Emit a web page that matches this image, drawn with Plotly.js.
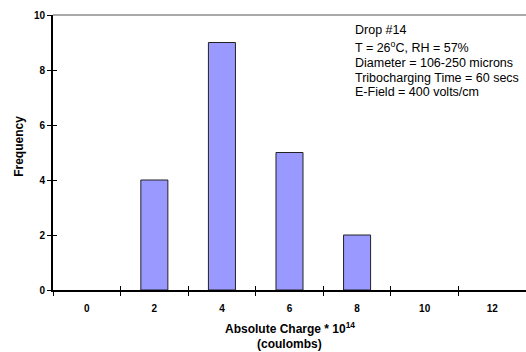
<!DOCTYPE html>
<html>
<head>
<meta charset="utf-8">
<script src="https://cdn.plot.ly/plotly-3.0.1.min.js"></script>
<style>
  html, body { margin: 0; padding: 0; background: #fff; }
  #chart { width: 526px; height: 352px; }
</style>
</head>
<body>
<div id="chart"></div>
<script>
// Charge bins (x 10^14 C) and number of particles counted in each
const chargeBins = ["0", "2", "4", "6", "8", "10", "12"];
const frequency = [0, 4, 9, 5, 2, 0, 0];
const yTicks = [0, 2, 4, 6, 8, 10];

const infoLines = [
  "Drop #14",
  "T = 26<sup>o</sup>C, RH = 57%",
  "Diameter = 106-250 microns",
  "Tribocharging Time = 60 secs",
  "E-Field = 400 volts/cm"
];
// vertical centre of each info line, in paper units
const infoY = [0.945, 0.882, 0.825, 0.772, 0.719];

const FONT = "Liberation Sans, Arial, sans-serif";
const tickFont = { size: 10, family: FONT, weight: "bold", color: "#000" };

const trace = {
  type: "bar",
  x: chargeBins,
  y: frequency,
  width: 0.4,
  marker: {
    color: "#9999FF",
    // empty bins get no outline so nothing sits on the axis
    line: { color: "#222", width: frequency.map(v => (v > 0 ? 1 : 0)) }
  },
  hoverinfo: "x+y"
};

const axisCommon = {
  showgrid: false, zeroline: false,
  tickcolor: "#000", tickwidth: 1, ticklen: 4,
  fixedrange: true
};

const layout = {
  width: 526,
  height: 352,
  margin: { l: 53, r: 0, t: 15, b: 62 },
  paper_bgcolor: "#fff",
  plot_bgcolor: "#fff",
  showlegend: false,
  font: { family: FONT, color: "#000" },
  xaxis: Object.assign({}, axisCommon, {
    type: "category",
    range: [-0.5, 6.5],
    categoryarray: chargeBins,
    showline: true, linecolor: "#000", linewidth: 1.5,
    ticks: "outside",
    tickson: "boundaries",
    ticklabelstandoff: 8,
    tickfont: tickFont
  }),
  // inner half of the crossing tick marks
  xaxis2: Object.assign({}, axisCommon, {
    type: "category",
    overlaying: "x",
    matches: "x",
    categoryarray: chargeBins,
    range: [-0.5, 6.5],
    showline: false,
    ticks: "inside",
    tickson: "boundaries",
    showticklabels: false
  }),
  yaxis: Object.assign({}, axisCommon, {
    range: [0, 10],
    tickvals: yTicks,
    showline: true, linecolor: "#000", linewidth: 2,
    ticks: "outside",
    tickfont: tickFont
  }),
  yaxis2: Object.assign({}, axisCommon, {
    overlaying: "y",
    range: [0, 10],
    tickvals: yTicks,
    showline: false,
    ticks: "inside",
    showticklabels: false
  }),
  shapes: [
    {
      type: "line", xref: "paper", yref: "paper",
      x0: 0, x1: 1, y0: 1, y1: 1,
      line: { color: "#555", width: 1.2 }
    }
  ],
  annotations: [
    {
      xref: "paper", yref: "paper", x: 0.5, y: -0.138, yanchor: "middle",
      text: "<b>Absolute Charge * 10<sup>14</sup></b>",
      showarrow: false, font: { size: 12 }
    },
    {
      xref: "paper", yref: "paper", x: 0.5, y: -0.195, yanchor: "middle",
      text: "<b>(coulombs)</b>",
      showarrow: false, font: { size: 12 }
    },
    {
      xref: "paper", yref: "paper", x: -0.072, y: 0.524,
      xanchor: "center", yanchor: "middle",
      text: "<b>Frequency</b>", textangle: -90,
      showarrow: false, font: { size: 12 }
    }
  ].concat(infoLines.map((t, i) => ({
    xref: "paper", yref: "paper", x: 0.634, y: infoY[i],
    xanchor: "left", yanchor: "middle", align: "left",
    text: t, showarrow: false, font: { size: 12.5 }
  })))
};

// an empty trace on the overlay axes so the inner ticks are drawn
const overlayTrace = {
  type: "bar", x: chargeBins, y: frequency.map(() => null),
  xaxis: "x2", yaxis: "y2", hoverinfo: "skip", showlegend: false
};

Plotly.newPlot("chart", [trace, overlayTrace], layout, { displayModeBar: false, staticPlot: true });
</script>
</body>
</html>
